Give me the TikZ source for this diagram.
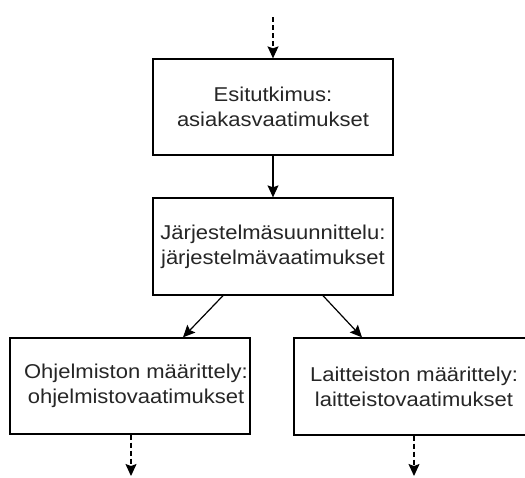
\documentclass[tikz,border=0pt]{standalone}
\usepackage{fontspec}
\newfontfamily\boxfont[FakeStretch=1.1]{Liberation Sans}
\usetikzlibrary{arrows.meta}
\definecolor{inktext}{HTML}{262626}
\tikzset{
  stagebox/.style={draw=black, line width=1.3pt, fill=white, minimum width=240pt,
    minimum height=96pt, inner sep=0pt, align=center, text=inktext,
    font=\boxfont\fontsize{20}{24.7}\selectfont},
  flow/.style={draw=black, line width=1.2pt,
    -{Stealth[length=12pt, width=11pt, inset=2pt]}},
  flowdash/.style={flow, dash pattern=on 5pt off 3pt}
}
\begin{document}
\begin{tikzpicture}[x=1pt, y=-1pt]
  \useasboundingbox (0,0) rectangle (525,477);
  \clip (0,0) rectangle (525,477);

  % requirement stages
  \node[stagebox] (b1) at (273,107) {Esitutkimus:\\asiakasvaatimukset};
  \node[stagebox, minimum height=97pt] (b2) at (273,246.5) {Järjestelmäsuunnittelu:\\järjestelmävaatimukset};
  \node[stagebox] (b3) at (130,386) {\hspace*{12pt}Ohjelmiston määrittely:\\\hspace*{12pt}ohjelmistovaatimukset};
  \node[stagebox, minimum height=97pt] (b4) at (414,386.5) {Laitteiston määrittely:\\laitteistovaatimukset};

  % loose ends of the flow
  \coordinate (in) at (273,17);
  \coordinate (out3) at (131,476);
  \coordinate (out4) at (414,476);

  \draw[flowdash] (in) -- (b1.north);
  \draw[flow] (b1.south) -- (b2.north);
  \draw[flow] ([xshift=-50pt]b2.south) -- ([xshift=53pt]b3.north);
  \draw[flow] ([xshift=50pt]b2.south) -- ([xshift=-52pt]b4.north);
  \draw[flowdash] (b3.south -| out3) -- (out3);
  \draw[flowdash] (b4.south) -- (out4);
\end{tikzpicture}
\end{document}
